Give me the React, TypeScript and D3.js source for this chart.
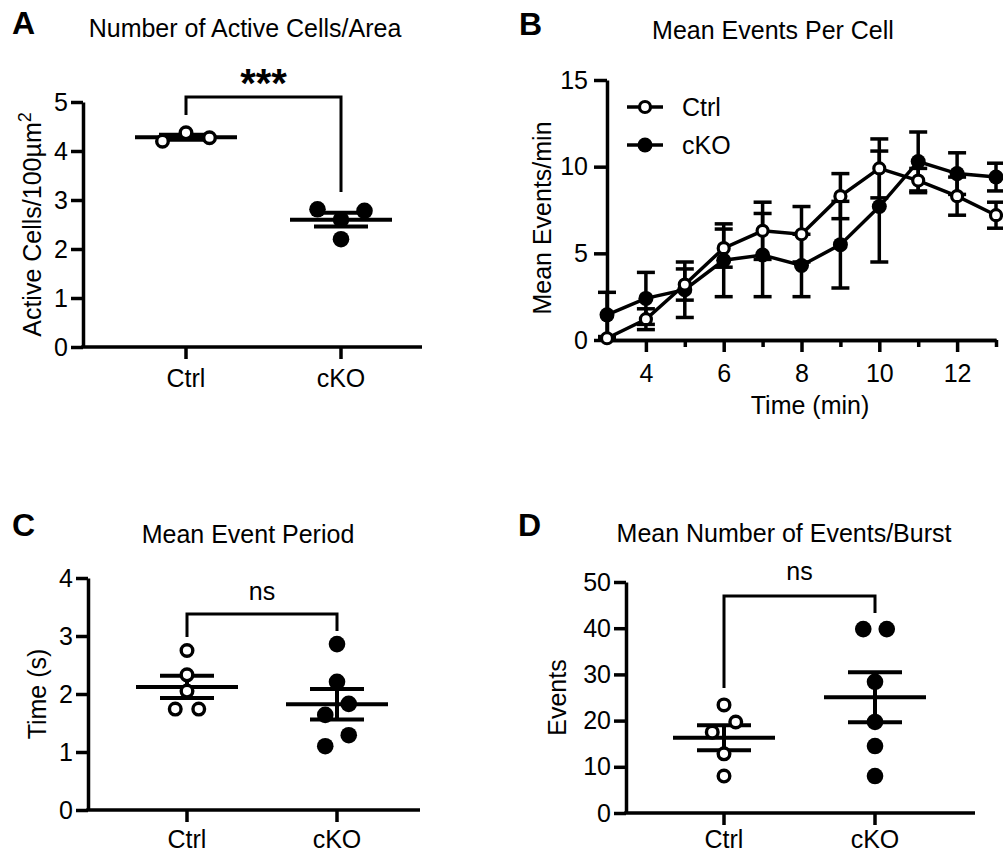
import { useEffect, useRef } from "react"
import * as d3 from "d3"

const FONT = "'Liberation Sans', Arial, Helvetica, sans-serif"

const groups = ["Ctrl", "cKO"]

// A - number of active cells / area
const cellsCtrl = [4.2, 4.37, 4.27]
const cellsCko = [2.81, 2.6, 2.78, 2.2]

// B - mean events per cell over time
const minutes = [3, 4, 5, 6, 7, 8, 9, 10, 11, 12, 13]
const eventsCtrl = [0.1, 1.2, 3.2, 5.3, 6.3, 6.1, 8.3, 9.9, 9.2, 8.3, 7.2]
const eventsCtrlSem = [0.1, 0.6, 0.9, 1.1, 1.65, 1.6, 1.3, 1.7, 0.7, 1.1, 0.75]
const eventsCko = [1.45, 2.4, 2.9, 4.6, 4.9, 4.3, 5.5, 7.7, 10.3, 9.6, 9.4]
const eventsCkoSem = [1.3, 1.5, 1.6, 2.1, 2.4, 1.8, 2.5, 3.2, 1.7, 1.2, 0.8]
const minuteLabels = [4, 6, 8, 10, 12]
const minuteMinor = [5, 7, 9, 11, 13]

// C - mean event period (s)
const periodCtrl = [2.75, 2.33, 2.05, 1.74, 1.74]
const periodCko = [2.86, 2.21, 1.64, 1.83, 1.1, 1.29]

// D - mean number of events / burst
const burstCtrl = [23.4, 17.5, 19.7, 12.8, 8.0]
const burstCko = [39.8, 39.8, 28.4, 19.7, 14.5, 8.0]

const LW = 3.5
const FS = 25

function styleAxis(sel) {
	sel.attr("font-family", FONT).attr("font-size", FS)
	sel.select(".domain").attr("stroke", "#000").attr("stroke-width", LW)
	sel.selectAll(".tick line").attr("stroke", "#000").attr("stroke-width", LW)
	sel.selectAll(".tick text").attr("fill", "#000")
}

// spread points that would overlap, roughly like GraphPad's scatter
function swarm(values, y, step) {
	const order = d3.range(values.length).sort((a, b) => values[b] - values[a])
	const rows = []
	order.forEach((i) => {
		const last = rows[rows.length - 1]
		if (last && Math.abs(y(values[i]) - y(values[last[last.length - 1]])) < 15) last.push(i)
		else rows.push([i])
	})
	const off = new Array(values.length).fill(0)
	rows.forEach((row) => {
		row.sort((a, b) => a - b)
		row.forEach((i, k) => (off[i] = (k - (row.length - 1) / 2) * step))
	})
	return off
}

function dotPanel(svg, p, ctrl, cko) {
	const g = svg.append("g")
	const y = d3.scaleLinear().domain([0, p.yMax]).range([p.y0, p.y1])
	const x = d3.scalePoint().domain(groups).range([p.ctrlX, p.ckoX])

	g.append("text")
		.attr("x", p.letterX)
		.attr("y", p.letterY)
		.attr("font-family", FONT)
		.attr("font-size", 32)
		.attr("font-weight", "bold")
		.text(p.letter)

	g.append("text")
		.attr("x", p.titleX)
		.attr("y", p.titleY)
		.attr("text-anchor", "middle")
		.attr("font-family", FONT)
		.attr("font-size", FS)
		.text(p.title)

	// y axis
	g.append("g")
		.attr("transform", `translate(${p.axisX},0)`)
		.call(
			d3
				.axisLeft(y)
				.tickValues(d3.range(0, p.yMax + 1e-9, p.yStep))
				.tickFormat(d3.format("d"))
				.tickSize(12)
				.tickSizeOuter(0)
				.tickPadding(3)
		)
		.call(styleAxis)

	// x axis
	g.append("line")
		.attr("x1", p.axisX - LW / 2)
		.attr("x2", p.xEnd)
		.attr("y1", y(0))
		.attr("y2", y(0))
		.attr("stroke", "#000")
		.attr("stroke-width", LW)
	groups.forEach((gr) => {
		g.append("line")
			.attr("x1", x(gr))
			.attr("x2", x(gr))
			.attr("y1", y(0))
			.attr("y2", y(0) + 12)
			.attr("stroke", "#000")
			.attr("stroke-width", LW)
		g.append("text")
			.attr("x", x(gr))
			.attr("y", y(0) + p.catDy)
			.attr("text-anchor", "middle")
			.attr("font-family", FONT)
			.attr("font-size", FS)
			.text(gr)
	})

	// y label
	const yl = g
		.append("text")
		.attr("transform", `translate(${p.labelX},${(p.y0 + p.y1) / 2}) rotate(-90)`)
		.attr("text-anchor", "middle")
		.attr("dy", "0.35em")
		.attr("font-family", FONT)
		.attr("font-size", FS)
	yl.append("tspan").text(p.yLabel)
	if (p.ySup) {
		yl.append("tspan").attr("dy", -10).attr("font-size", 18).text(p.ySup)
	}

	// significance bracket
	const b = p.bracket
	g.append("path")
		.attr("d", `M${x("Ctrl")},${b.left}V${b.top}H${x("cKO")}V${b.right}`)
		.attr("fill", "none")
		.attr("stroke", "#000")
		.attr("stroke-width", 3)
	g.append("text")
		.attr("x", (x("Ctrl") + x("cKO")) / 2)
		.attr("y", b.textY)
		.attr("text-anchor", "middle")
		.attr("font-family", FONT)
		.attr("font-size", b.size)
		.attr("font-weight", b.bold ? "bold" : "normal")
		.text(b.text)

	const sets = [
		{ key: "Ctrl", vals: ctrl, open: true },
		{ key: "cKO", vals: cko, open: false },
	]

	sets.forEach((s) => {
		const cx = x(s.key)
		const m = d3.mean(s.vals)
		const sem = d3.deviation(s.vals) / Math.sqrt(s.vals.length)
		const lines = g.append("g").attr("stroke", "#000").attr("stroke-width", 4)
		lines.append("line").attr("x1", cx - 51).attr("x2", cx + 51).attr("y1", y(m)).attr("y2", y(m))
		lines.append("line").attr("x1", cx).attr("x2", cx).attr("y1", y(m - sem)).attr("y2", y(m + sem))
		;[m - sem, m + sem].forEach((v) =>
			lines.append("line").attr("x1", cx - 27).attr("x2", cx + 27).attr("y1", y(v)).attr("y2", y(v))
		)

		const off = swarm(s.vals, y, 23.5)
		g.append("g")
			.selectAll("circle")
			.data(s.vals)
			.enter()
			.append("circle")
			.attr("cx", (d, i) => cx + off[i])
			.attr("cy", (d) => y(d))
			.attr("r", s.open ? 5.8 : 8.3)
			.attr("fill", s.open ? "#fff" : "#000")
			.attr("stroke", "#000")
			.attr("stroke-width", s.open ? 3.4 : 0)
	})
}

function linePanel(svg) {
	const g = svg.append("g")
	const x = d3.scaleLinear().domain([3, 13]).range([607, 996])
	const y = d3.scaleLinear().domain([0, 15]).range([340, 80])

	g.append("text")
		.attr("x", 519)
		.attr("y", 35)
		.attr("font-family", FONT)
		.attr("font-size", 32)
		.attr("font-weight", "bold")
		.text("B")
	g.append("text")
		.attr("x", 773)
		.attr("y", 39)
		.attr("text-anchor", "middle")
		.attr("font-family", FONT)
		.attr("font-size", FS)
		.text("Mean Events Per Cell")

	g.append("g")
		.attr("transform", `translate(${x(3)},0)`)
		.call(d3.axisLeft(y).tickValues([0, 5, 10, 15]).tickSize(13).tickSizeOuter(0).tickPadding(6))
		.call(styleAxis)

	g.append("g")
		.attr("transform", `translate(0,${y(0)})`)
		.call(d3.axisBottom(x).tickValues(minuteLabels).tickSize(12).tickSizeOuter(0).tickPadding(12))
		.call(styleAxis)
	g.append("g")
		.attr("transform", `translate(0,${y(0)})`)
		.call(d3.axisBottom(x).tickValues(minuteMinor).tickSize(7).tickSizeOuter(0).tickFormat(() => ""))
		.call(styleAxis)

	g.append("text")
		.attr("x", 810)
		.attr("y", 414)
		.attr("text-anchor", "middle")
		.attr("font-family", FONT)
		.attr("font-size", FS)
		.text("Time (min)")
	g.append("text")
		.attr("transform", `translate(542,218) rotate(-90)`)
		.attr("text-anchor", "middle")
		.attr("dy", "0.35em")
		.attr("font-family", FONT)
		.attr("font-size", FS)
		.text("Mean Events/min")

	const series = [
		{ name: "cKO", mean: eventsCko, sem: eventsCkoSem, open: false },
		{ name: "Ctrl", mean: eventsCtrl, sem: eventsCtrlSem, open: true },
	]

	const line = d3
		.line()
		.x((d) => x(d[0]))
		.y((d) => y(d[1]))

	series.forEach((s) => {
		const pts = minutes.map((t, i) => [t, s.mean[i], s.sem[i]])
		const eb = g.append("g").attr("stroke", "#000").attr("stroke-width", LW)
		pts.forEach(([t, m, e]) => {
			eb.append("line").attr("x1", x(t)).attr("x2", x(t)).attr("y1", y(m - e)).attr("y2", y(m + e))
			;[m - e, m + e].forEach((v) =>
				eb.append("line").attr("x1", x(t) - 9).attr("x2", x(t) + 9).attr("y1", y(v)).attr("y2", y(v))
			)
		})
		g.append("path")
			.datum(pts)
			.attr("d", line)
			.attr("fill", "none")
			.attr("stroke", "#000")
			.attr("stroke-width", LW)
		g.append("g")
			.selectAll("circle")
			.data(pts)
			.enter()
			.append("circle")
			.attr("cx", (d) => x(d[0]))
			.attr("cy", (d) => y(d[1]))
			.attr("r", s.open ? 5.5 : 7.5)
			.attr("fill", s.open ? "#fff" : "#000")
			.attr("stroke", "#000")
			.attr("stroke-width", s.open ? 3.2 : 0)
	})

	// legend
	const legend = [
		{ name: "Ctrl", open: true, y: 107 },
		{ name: "cKO", open: false, y: 145 },
	]
	legend.forEach((l) => {
		g.append("line")
			.attr("x1", 627)
			.attr("x2", 663)
			.attr("y1", l.y)
			.attr("y2", l.y)
			.attr("stroke", "#000")
			.attr("stroke-width", LW)
		g.append("circle")
			.attr("cx", 645)
			.attr("cy", l.y)
			.attr("r", l.open ? 5.5 : 7.5)
			.attr("fill", l.open ? "#fff" : "#000")
			.attr("stroke", "#000")
			.attr("stroke-width", l.open ? 3.2 : 0)
		g.append("text")
			.attr("x", 682)
			.attr("y", l.y)
			.attr("dy", "0.35em")
			.attr("font-family", FONT)
			.attr("font-size", FS)
			.text(l.name)
	})
}

const panelA = {
	letter: "A", letterX: 12, letterY: 34,
	title: "Number of Active Cells/Area", titleX: 245, titleY: 37,
	yMax: 5, yStep: 1, y0: 347, y1: 102, axisX: 83, xEnd: 422,
	ctrlX: 186, ckoX: 341, labelX: 32, catDy: 40,
	yLabel: "Active Cells/100µm", ySup: "2",
	bracket: { top: 97, left: 115, right: 192, text: "***", textY: 97, size: 40, bold: true },
}

const panelC = {
	letter: "C", letterX: 12, letterY: 536,
	title: "Mean Event Period", titleX: 248, titleY: 543,
	yMax: 4, yStep: 1, y0: 810, y1: 578, axisX: 88, xEnd: 420,
	ctrlX: 187, ckoX: 337, labelX: 37, catDy: 38,
	yLabel: "Time (s)",
	bracket: { top: 614, left: 637, right: 631, text: "ns", textY: 600, size: FS, bold: false },
}

const panelD = {
	letter: "D", letterX: 518, letterY: 536,
	title: "Mean Number of Events/Burst", titleX: 784, titleY: 542,
	yMax: 50, yStep: 10, y0: 813, y1: 582, axisX: 626, xEnd: 975,
	ctrlX: 724, ckoX: 875, labelX: 557, catDy: 35,
	yLabel: "Events",
	bracket: { top: 596, left: 688, right: 613, text: "ns", textY: 580, size: FS, bold: false },
}

export default function App() {
	const ref = useRef(null)

	useEffect(() => {
		const svg = d3.select(ref.current)
		svg.selectAll("*").remove()
		svg.append("rect").attr("width", 1003).attr("height", 854).attr("fill", "#fff")
		dotPanel(svg, panelA, cellsCtrl, cellsCko)
		linePanel(svg)
		dotPanel(svg, panelC, periodCtrl, periodCko)
		dotPanel(svg, panelD, burstCtrl, burstCko)
	}, [])

	return (
		<svg
			ref={ref}
			width={1003}
			height={854}
			style={{ position: "absolute", left: 0, top: 0 }}
		></svg>
	)
}
